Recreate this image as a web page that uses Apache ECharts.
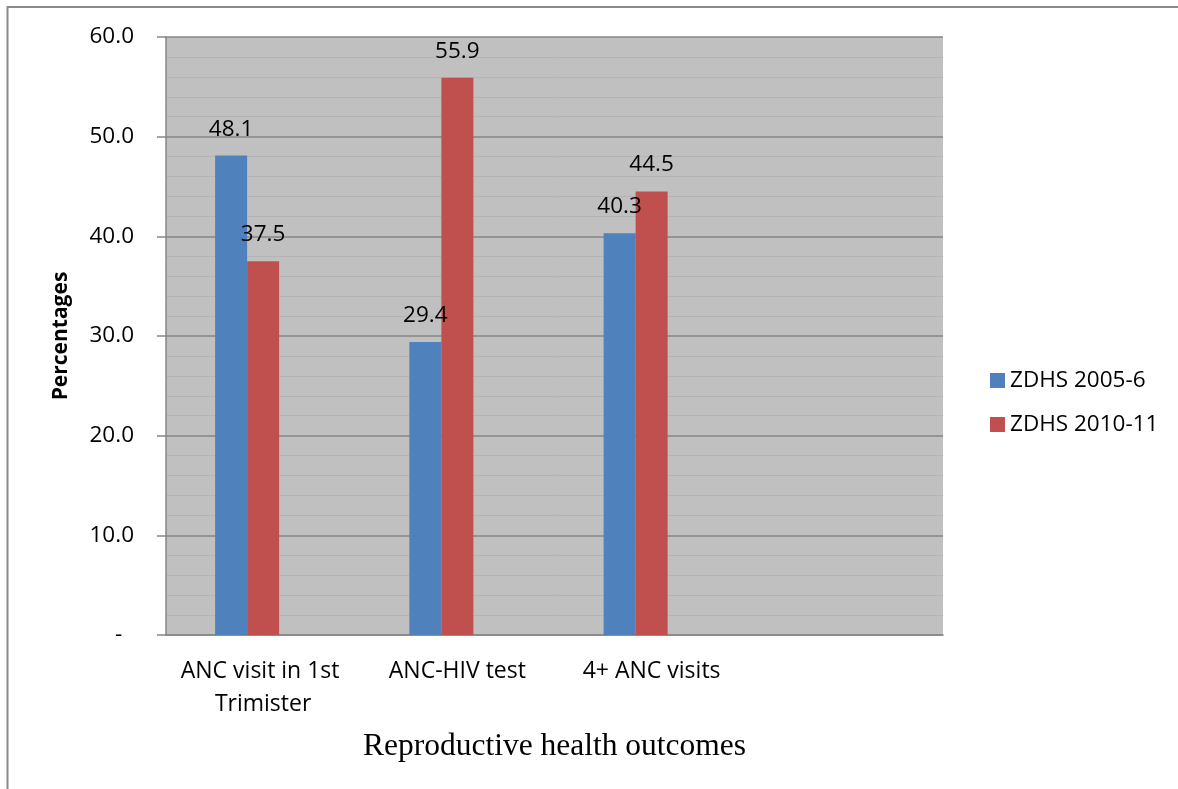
<!DOCTYPE html>
<html>
<head>
<meta charset="utf-8">
<script src="https://cdn.jsdelivr.net/npm/echarts@6/dist/echarts.min.js"></script>
<style>
html,body{margin:0;padding:0;background:#fff;}
#chart{width:1178px;height:789px;}
</style>
</head>
<body>
<div id="chart"></div>
<script>
const categories = ['ANC visit in 1st Trimister', 'ANC-HIV test', '4+ ANC visits', ''];
const series2005 = [48.1, 29.4, 40.3, null];
const series2010 = [37.5, 55.9, 44.5, null];
const seriesEmpty = [null, null, null, null];
const seriesNames = ['ZDHS 2005-6', 'ZDHS 2010-11'];
const yTickLabels = ['-  ', '10.0', '20.0', '30.0', '40.0', '50.0', '60.0'];
const xTitle = 'Reproductive health outcomes';
const yTitle = 'Percentages';

const FONT = 'Open Sans';
const chart = echarts.init(document.getElementById('chart'), null, {renderer: 'canvas'});

const labelCfg = {
  show: true,
  position: 'top',
  distance: 15,
  color: '#000',
  fontFamily: FONT,
  fontSize: 22.5,
  formatter: p => p.value == null ? '' : Number(p.value).toFixed(1)
};

chart.setOption({
  animation: false,
  backgroundColor: '#ffffff',
  graphic: [{
    type: 'rect',
    shape: {x: 7.5, y: 7, width: 1300, height: 900},
    style: {fill: 'none', stroke: '#8a8a8a', lineWidth: 2},
    silent: true
  }],
  grid: {
    left: 166, right: 235, top: 37, bottom: 154,
    show: true, backgroundColor: '#C0C0C0', borderWidth: 0
  },
  legend: {
    data: seriesNames,
    orient: 'vertical',
    left: 985,
    top: 364,
    itemWidth: 15,
    itemHeight: 15,
    itemGap: 21,
    icon: 'rect',
    textStyle: {fontFamily: FONT, fontSize: 22.5, color: '#000'}
  },
  xAxis: {
    type: 'category',
    data: categories,
    name: xTitle,
    nameLocation: 'middle',
    nameGap: 96,
    nameTextStyle: {fontFamily: 'Liberation Serif', fontSize: 31.5, color: '#000'},
    axisLine: {show: true, lineStyle: {color: '#868686', width: 1.5}},
    axisTick: {show: false},
    axisLabel: {
      interval: 0,
      margin: 20,
      color: '#000',
      fontFamily: FONT,
      fontSize: 23,
      lineHeight: 33,
      width: 190,
      overflow: 'break',
      align: 'center'
    },
    splitLine: {show: false}
  },
  yAxis: {
    type: 'value',
    min: 0, max: 60, interval: 10,
    name: yTitle,
    nameLocation: 'middle',
    nameRotate: 90,
    nameGap: 94,
    nameTextStyle: {fontFamily: FONT, fontWeight: 'bold', fontSize: 21, color: '#000'},
    axisLine: {show: true, lineStyle: {color: '#868686', width: 1.5}},
    axisTick: {show: true, length: 9, lineStyle: {color: '#868686', width: 1.5}},
    axisLabel: {
      margin: 32,
      color: '#000',
      fontFamily: FONT,
      fontSize: 22.5,
      formatter: v => yTickLabels[Math.round(v / 10)]
    },
    splitLine: {show: true, lineStyle: {color: '#868686', width: 1.5}},
    minorTick: {show: false, splitNumber: 5},
    minorSplitLine: {show: true, lineStyle: {color: '#B4B4B4', width: 1}}
  },
  series: [
    {
      name: seriesNames[0], type: 'bar', data: series2005,
      barWidth: 32, barGap: '0%',
      itemStyle: {color: '#4F81BD'},
      label: labelCfg
    },
    {
      name: seriesNames[1], type: 'bar', data: series2010,
      barWidth: 32, barGap: '0%',
      itemStyle: {color: '#C0504D'},
      label: labelCfg
    },
    {
      name: 'empty', type: 'bar', data: seriesEmpty,
      barWidth: 32, barGap: '0%',
      itemStyle: {color: '#9BBB59'}
    }
  ]
});
</script>
</body>
</html>
